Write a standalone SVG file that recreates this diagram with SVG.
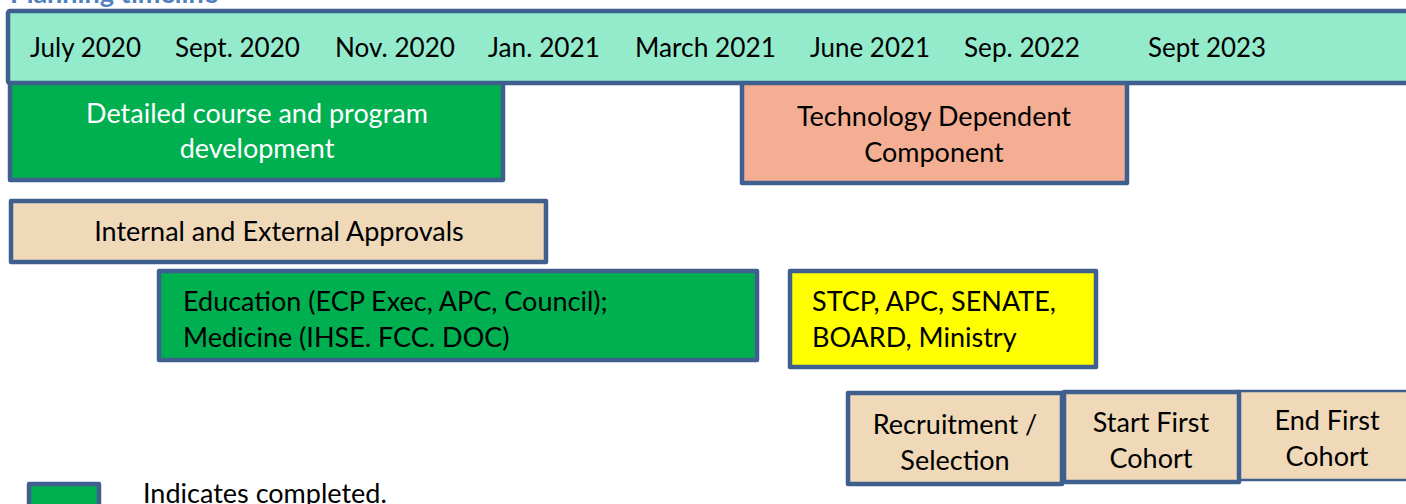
<svg xmlns="http://www.w3.org/2000/svg" width="1406" height="504" viewBox="0 0 1406 504">
  <style>
    .box { stroke: #3F5F8E; stroke-width: 4.5; stroke-linejoin: round; }
    .thin { stroke: #3F5F8E; stroke-width: 2.5; }
    .lbl { font-family: Lato, "Open Sans", "Liberation Sans", sans-serif; font-size: 27px; fill: #000000; }
    .hdr { font-size: 26px; }
    .mid { text-anchor: middle; }
    .white { fill: #FFFFFF; }
    .title { font-family: Lato, "Open Sans", "Liberation Sans", sans-serif; font-size: 27px; font-weight: bold; fill: #4F81BD; }
  </style>
  <rect x="0" y="0" width="1406" height="504" fill="#FFFFFF"/>

  <!-- heading, mostly above the top edge -->
  <text class="title" x="10" y="3">Planning timeline</text>

  <!-- task bars -->
  <g id="course-development">
    <rect class="box" x="10" y="82" width="493" height="98" fill="#00B050"/>
    <text class="lbl mid white" x="257" y="123">Detailed course and program</text>
    <text class="lbl mid white" x="257" y="158">development</text>
  </g>

  <g id="tech-component">
    <rect class="box" x="742" y="82" width="385" height="101" fill="#F4AE93"/>
    <text class="lbl mid" x="934" y="126">Technology Dependent</text>
    <text class="lbl mid" x="934" y="162">Component</text>
  </g>

  <g id="approvals">
    <rect class="box" x="11" y="201" width="535" height="61" fill="#EFD9B8"/>
    <text class="lbl mid" x="279" y="241">Internal and External Approvals</text>
  </g>

  <g id="education-medicine">
    <rect class="box" x="159" y="271" width="598" height="89" fill="#00B050"/>
    <text class="lbl" x="183" y="311">Education (ECP Exec, APC, Council);</text>
    <text class="lbl" x="183" y="347">Medicine (IHSE. FCC. DOC)</text>
  </g>

  <g id="university-approvals">
    <rect class="box" x="790" y="271" width="306" height="96" fill="#FFFF00"/>
    <text class="lbl" x="812" y="311">STCP, APC, SENATE,</text>
    <text class="lbl" x="812" y="347">BOARD, Ministry</text>
  </g>

  <g id="recruitment">
    <rect class="box" x="848" y="393" width="214" height="91" fill="#EFD9B8"/>
    <text class="lbl mid" x="955" y="434">Recruitment /</text>
    <text class="lbl mid" x="955" y="470">Selection</text>
  </g>

  <g id="end-first-cohort">
    <rect class="thin" x="1239" y="391" width="180" height="89" fill="#EFD9B8"/>
    <text class="lbl mid" x="1327" y="430">End First</text>
    <text class="lbl mid" x="1327" y="466">Cohort</text>
  </g>

  <g id="start-first-cohort">
    <rect class="box" x="1064" y="392" width="175" height="90" fill="#EFD9B8"/>
    <text class="lbl mid" x="1151" y="432">Start First</text>
    <text class="lbl mid" x="1151" y="468">Cohort</text>
  </g>

  <!-- month header band -->
  <g id="timeline-header">
    <rect class="box" x="8" y="11" width="1420" height="72" rx="2" fill="#93EBCC"/>
    <text class="lbl hdr" x="30" y="57" textLength="111" lengthAdjust="spacingAndGlyphs">July 2020</text>
    <text class="lbl hdr" x="175" y="57" textLength="125" lengthAdjust="spacingAndGlyphs">Sept. 2020</text>
    <text class="lbl hdr" x="335" y="57" textLength="120" lengthAdjust="spacingAndGlyphs">Nov. 2020</text>
    <text class="lbl hdr" x="488" y="57" textLength="112" lengthAdjust="spacingAndGlyphs">Jan. 2021</text>
    <text class="lbl hdr" x="635" y="57" textLength="141" lengthAdjust="spacingAndGlyphs">March 2021</text>
    <text class="lbl hdr" x="810" y="57" textLength="120" lengthAdjust="spacingAndGlyphs">June 2021</text>
    <text class="lbl hdr" x="964" y="57" textLength="116" lengthAdjust="spacingAndGlyphs">Sep. 2022</text>
    <text class="lbl hdr" x="1148" y="57" textLength="118" lengthAdjust="spacingAndGlyphs">Sept 2023</text>
  </g>

  <!-- legend -->
  <g id="legend">
    <rect class="box" x="29" y="484" width="70" height="30" fill="#00B050"/>
    <text class="lbl" x="143" y="503">Indicates completed.</text>
  </g>

  <g id="connectors"></g>
</svg>
